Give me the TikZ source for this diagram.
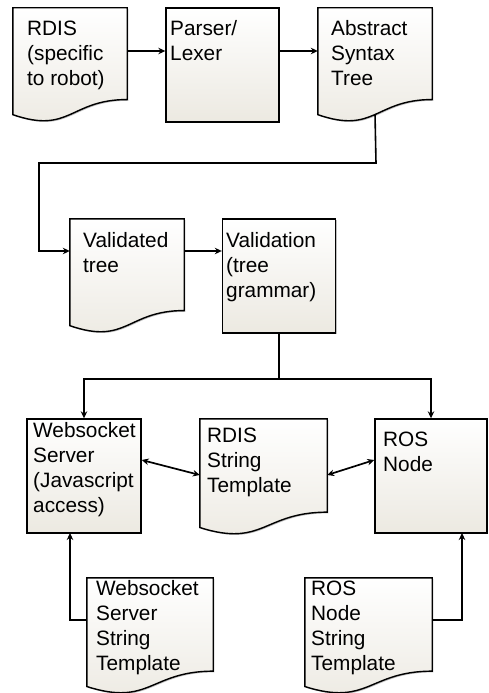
\documentclass[tikz,border=0pt]{standalone}
\usepackage{fontspec}
\setmainfont{Liberation Sans}
\usetikzlibrary{calc,arrows.meta,shadows}
\definecolor{fillbot}{HTML}{ECE9E1}
\newcommand{\ml}[1]{\begin{tabular}[t]{@{}l@{}}#1\end{tabular}}
\tikzset{
  shapebase/.style={line width=1.4pt, draw=black, top color=white, bottom color=fillbot,
    drop shadow={shadow xshift=1.2pt, shadow yshift=-1.2pt, opacity=0.25, fill=black}},
  procbox/.style={shapebase, rectangle, inner sep=0pt},
  docghost/.style={rectangle, inner sep=0pt, draw=none},
  lbl/.style={anchor=base west, inner sep=0pt, font=\fontsize{20.8}{25}\selectfont},
  arr/.style={line width=1.6pt, -{Stealth[length=7pt,width=6.5pt]}},
  darr/.style={line width=1.7pt, {Stealth[length=7pt,width=6.5pt]}-{Stealth[length=7pt,width=6.5pt]}},
  conn/.style={line width=1.6pt},
}
\newcommand{\docpath}[1]{%
  \path[shapebase] (#1.north west) -- (#1.north east) -- ($(#1.north east)!0.802!(#1.south east)$)
   .. controls ($(#1.north)!0.802!(#1.south)$) and ($(#1.north)!1.1075!(#1.south)$) ..
   ($(#1.north west)!0.934!(#1.south west)$) -- cycle;}
\begin{document}
\begin{tikzpicture}[x=1pt,y=-1pt]
\useasboundingbox (0,0) rectangle (488,693);
% shape frames
\node[docghost, minimum width=114pt, minimum height=114pt] (rdis) at (70,65) {};
\node[procbox, minimum width=113pt, minimum height=114pt] (parser) at (222.5,65) {};
\node[docghost, minimum width=114pt, minimum height=114pt] (ast) at (375,65) {};
\node[docghost, minimum width=114pt, minimum height=114pt] (vtree) at (127,276) {};
\node[procbox, minimum width=113pt, minimum height=114pt] (valid) at (279,276) {};
\node[procbox, minimum width=114pt, minimum height=114pt] (ws) at (84,476) {};
\node[docghost, minimum width=127pt, minimum height=116pt] (rst) at (263.5,477) {};
\node[procbox, minimum width=112pt, minimum height=114pt] (ros) at (431,476) {};
\node[docghost, minimum width=126pt, minimum height=116pt] (wst) at (150,636) {};
\node[docghost, minimum width=127pt, minimum height=116pt] (rnst) at (368.5,636) {};
\docpath{rdis}
\docpath{ast}
\docpath{vtree}
\docpath{rst}
\docpath{wst}
\docpath{rnst}
% labels
\node[lbl] (trdis) at (27,36) {\ml{RDIS\\(specific\\to robot)}};
\node[lbl] (tparser) at (170,36) {\ml{Parser/\\Lexer}};
\node[lbl] (tast) at (331,36) {\ml{Abstract\\Syntax\\Tree}};
\node[lbl] (tvtree) at (83,247) {\ml{Validated\\tree}};
\node[lbl] (tvalid) at (226,247) {\ml{Validation\\(tree\\grammar)}};
\node[lbl] (tws) at (33,437) {\ml{Websocket\\Server\\(Javascript\\access)}};
\node[lbl] (trst) at (207,442) {\ml{RDIS\\String\\Template}};
\node[lbl] (tros) at (383,446) {\ml{ROS\\Node}};
\node[lbl] (twst) at (96,595) {\ml{Websocket\\Server\\String\\Template}};
\node[lbl] (trnst) at (311,595) {\ml{ROS\\Node\\String\\Template}};
% connectors
\coordinate (astout) at (ast.center |- 0,114);
\coordinate (turn1) at (376,163);
\coordinate (turn2) at (39,163);
\coordinate (split) at (valid.south |- 0,379);
\coordinate (wsin) at (70,533);
\coordinate (rosin) at (462,533);
\draw[arr] (rdis.east |- 0,51) -- (parser.west |- 0,51);
\draw[arr] (parser.east |- 0,51) -- (ast.west |- 0,51);
\draw[arr] (astout) -- (turn1) -- (turn2) |- (vtree.west |- 0,251);
\draw[arr] (vtree.east |- 0,251) -- (valid.west |- 0,251);
\draw[conn] (valid.south) -- (split);
\draw[arr] (split) -| (ws.north);
\draw[arr] (split) -| (ros.north);
\draw[darr] (ws.east |- 0,460) -- (rst.west |- 0,475);
\draw[darr] (rst.east |- 0,475) -- (ros.west |- 0,460);
\draw[arr] (wst.west |- 0,620) -| (wsin);
\draw[arr] (rnst.east |- 0,620) -| (rosin);
\end{tikzpicture}
\end{document}
